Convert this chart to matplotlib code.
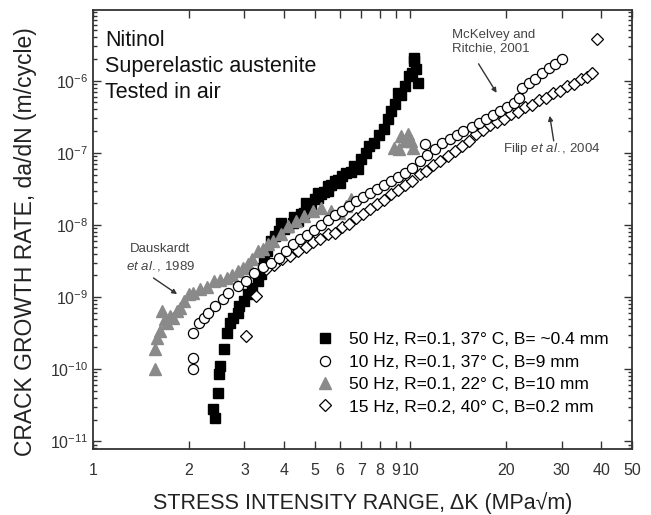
import matplotlib
matplotlib.use('Agg')
import matplotlib.pyplot as plt
from matplotlib.ticker import FixedLocator, LogLocator, NullFormatter, FixedFormatter

plt.rcParams['font.family'] = ['Liberation Sans', 'DejaVu Sans']
plt.rcParams['mathtext.fontset'] = 'custom'
plt.rcParams['mathtext.rm'] = 'Liberation Sans'
plt.rcParams['mathtext.it'] = 'Liberation Sans:italic'
plt.rcParams['mathtext.bf'] = 'Liberation Sans:bold'

# 50 Hz, R=0.1, 37 C, B=~0.4 mm (black squares)
sq_dk = [2.38, 2.43, 2.47, 2.49, 2.52, 2.58, 2.65, 2.71, 2.77, 2.86, 2.88, 2.98, 3.07, 3.18, 3.30,
         3.38, 3.43, 3.45, 3.53, 3.63, 3.74, 3.85, 3.99, 4.11, 4.26, 4.42, 4.52, 4.62, 4.76, 4.86,
         5.01, 5.12, 5.23, 5.34, 5.50, 5.62, 5.79, 5.92, 6.09, 6.27, 6.50, 6.65, 6.84, 7.00, 7.26,
         7.42, 7.69, 7.98, 8.27, 8.52, 8.71, 8.97, 9.16, 9.37, 9.64, 9.93, 10.1, 10.3, 10.4, 10.6,
         10.3, 3.9, 4.3, 4.7, 5.1, 5.5, 6.0]
sq_rate = [2.78e-11, 2.08e-11, 4.64e-11, 8.5e-11, 1.10e-10, 1.9e-10, 3.16e-10, 4.36e-10, 5.1e-10,
           6.0e-10, 7.5e-10, 8.8e-10, 1.10e-9, 1.33e-9, 1.67e-9, 2.08e-9, 2.53e-9, 3.48e-9, 4.36e-9,
           6.0e-9, 7.0e-9, 8.3e-9, 8.8e-9, 9.4e-9, 1.07e-8, 1.14e-8, 1.42e-8, 1.47e-8, 1.72e-8,
           1.96e-8, 2.3e-8, 2.37e-8, 2.7e-8, 2.87e-8, 3.48e-8, 3.6e-8, 4.1e-8, 4.2e-8, 4.8e-8,
           5.3e-8, 5.45e-8, 6.6e-8, 6.0e-8, 8.3e-8, 1.0e-7, 1.25e-7, 1.38e-7, 1.78e-7, 2.15e-7,
           2.97e-7, 3.83e-7, 4.8e-7, 6.8e-7, 6.4e-7, 8.5e-7, 1.17e-6, 1.29e-6, 1.9e-6, 1.47e-6,
           9.4e-7, 2.08e-6, 1.05e-8, 1.3e-8, 2.0e-8, 2.8e-8, 3.0e-8, 3.8e-8]

# 10 Hz, R=0.1, 37 C, B=9 mm (open circles, McKelvey and Ritchie)
ci_dk = [2.06, 2.06, 2.06, 2.15, 2.23, 2.31, 2.43, 2.56, 2.67, 2.86, 3.03, 3.21, 3.43, 3.63, 3.85,
         4.05, 4.26, 4.49, 4.72, 4.97, 5.23, 5.50, 5.79, 6.09, 6.41, 6.75, 7.10, 7.47, 7.86, 8.27,
         8.71, 9.16, 9.64, 10.1, 11.1, 10.7, 11.3, 12.0, 12.6, 13.3, 14.0, 14.7, 15.6, 16.4, 17.3,
         18.2, 19.1, 20.1, 21.2, 22.0, 22.5, 23.6, 24.7, 26.0, 27.3, 28.6, 30.1]
ci_rate = [1.0e-10, 1.42e-10, 3.16e-10, 4.36e-10, 5.1e-10, 6.0e-10, 7.5e-10, 9.4e-10, 1.14e-9,
           1.42e-9, 1.67e-9, 2.15e-9, 2.61e-9, 2.97e-9, 3.48e-9, 4.36e-9, 5.45e-9, 6.4e-9, 7.3e-9,
           8.5e-9, 1.0e-8, 1.17e-8, 1.38e-8, 1.56e-8, 1.84e-8, 2.15e-8, 2.45e-8, 2.78e-8, 3.16e-8,
           3.6e-8, 4.1e-8, 4.6e-8, 5.3e-8, 6.2e-8, 1.33e-7, 7.7e-8, 9.4e-8, 1.14e-7, 1.38e-7,
           1.56e-7, 1.78e-7, 2.02e-7, 2.3e-7, 2.61e-7, 2.97e-7, 3.37e-7, 3.83e-7, 4.36e-7, 4.95e-7,
           5.8e-7, 8.0e-7, 9.4e-7, 1.07e-6, 1.29e-6, 1.52e-6, 1.72e-6, 2.02e-6]

# 50 Hz, R=0.1, 22 C, B=10 mm (grey triangles, Dauskardt et al.)
tr_dk = [1.57, 1.57, 1.59, 1.63, 1.65, 1.68, 1.71, 1.75, 1.79, 1.84, 1.88, 1.94, 2.00, 2.07, 2.18,
         2.28, 2.40, 2.52, 2.65, 2.75, 2.86, 2.96, 3.07, 3.18, 3.30, 3.43, 3.55, 3.69, 3.91, 4.11,
         4.36, 4.62, 4.93, 5.23, 5.62, 5.96, 6.27, 6.50,
         8.90, 9.23, 9.37, 9.64, 9.86, 10.07, 10.2]
tr_rate = [1.0e-10, 1.9e-10, 2.7e-10, 3.37e-10, 6.4e-10, 4.95e-10, 4.36e-10, 5.45e-10, 5.1e-10,
           6.4e-10, 7.0e-10, 8.8e-10, 1.10e-9, 1.14e-9, 1.29e-9, 1.38e-9, 1.67e-9, 1.72e-9, 1.84e-9,
           2.02e-9, 2.3e-9, 2.53e-9, 2.87e-9, 3.37e-9, 4.36e-9, 4.64e-9, 5.45e-9, 6.0e-9, 7.5e-9,
           9.7e-9, 1.14e-8, 1.33e-8, 1.56e-8, 1.72e-8, 1.56e-8, 1.47e-8, 1.84e-8, 2.3e-8,
           1.17e-7, 1.14e-7, 1.72e-7, 1.47e-7, 1.84e-7, 1.47e-7, 1.17e-7]

# 15 Hz, R=0.2, 40 C, B=0.2 mm (open diamonds, Filip et al.)
di_dk = [3.03, 3.26, 3.50, 3.71, 3.94, 4.17, 4.42, 4.69, 4.93, 5.19, 5.50, 5.79, 6.09, 6.41, 6.75,
         7.10, 7.47, 7.86, 8.27, 8.71, 9.16, 9.64, 10.1, 10.7, 11.2, 11.8, 12.4, 13.1, 13.8, 14.5,
         15.3, 16.1, 16.9, 17.8, 18.7, 19.7, 20.7, 21.8, 22.9, 24.1, 25.4, 26.7, 28.1, 29.6, 31.2,
         32.8, 34.5, 36.1, 37.4, 38.8]
di_rate = [2.87e-10, 1.03e-9, 2.45e-9, 2.78e-9, 3.37e-9, 3.71e-9, 4.36e-9, 4.95e-9, 5.8e-9, 6.4e-9,
           7.5e-9, 7.7e-9, 9.4e-9, 1.03e-8, 1.25e-8, 1.42e-8, 1.67e-8, 1.96e-8, 2.22e-8, 2.7e-8,
           3.06e-8, 3.6e-8, 4.1e-8, 5.1e-8, 5.6e-8, 6.8e-8, 7.7e-8, 9.1e-8, 1.07e-7, 1.25e-7,
           1.47e-7, 1.84e-7, 2.08e-7, 2.45e-7, 2.7e-7, 2.97e-7, 3.48e-7, 3.71e-7, 4.36e-7, 4.6e-7,
           5.45e-7, 5.8e-7, 6.8e-7, 7.3e-7, 8.5e-7, 9.1e-7, 1.07e-6, 1.14e-6, 1.29e-6, 3.83e-6]

labels = ['50 Hz, R=0.1, 37° C, B= ~0.4 mm',
          '10 Hz, R=0.1, 37° C, B=9 mm',
          '50 Hz, R=0.1, 22° C, B=10 mm',
          '15 Hz, R=0.2, 40° C, B=0.2 mm']

xticks = [1, 2, 3, 4, 5, 6, 7, 8, 9, 10, 20, 30, 40, 50]
yticks = [1e-11, 1e-10, 1e-9, 1e-8, 1e-7, 1e-6]

fig = plt.figure(figsize=(6.51, 5.15), dpi=100)
ax = fig.add_axes([0.143, 0.128, 0.828, 0.852])

grey = '#8a8a8a'
h_sq, = ax.plot(sq_dk, sq_rate, 's', color='black', ms=7, ls='none', zorder=3)
h_tr, = ax.plot(tr_dk, tr_rate, '^', color=grey, ms=8.5, ls='none', zorder=4)
h_di, = ax.plot(di_dk, di_rate, 'D', mfc='white', mec='black', mew=0.9, ms=6.3, ls='none', zorder=5)
h_ci, = ax.plot(ci_dk, ci_rate, 'o', mfc='white', mec='black', mew=0.9, ms=7.3, ls='none', zorder=6)

ax.set_xscale('log')
ax.set_yscale('log')
ax.set_xlim(1, 50)
ax.set_ylim(7.8e-12, 9.5e-6)

ax.xaxis.set_major_locator(FixedLocator(xticks))
ax.xaxis.set_major_formatter(FixedFormatter([str(v) for v in xticks]))
ax.xaxis.set_minor_locator(FixedLocator([]))
ax.yaxis.set_major_locator(FixedLocator(yticks))
ax.yaxis.set_minor_locator(LogLocator(base=10, subs=range(2, 10), numticks=20))
ax.yaxis.set_minor_formatter(NullFormatter())

ax.tick_params(which='both', direction='in', top=True, right=True, colors='#333333',
               labelsize=11.5, width=1)
ax.tick_params(which='major', length=6)
ax.tick_params(which='minor', length=3)
ax.tick_params(axis='x', pad=10)
for s in ax.spines.values():
    s.set_linewidth(1.3)
    s.set_color('#333333')

ax.set_xlabel('STRESS INTENSITY RANGE, ΔK (MPa√m)', fontsize=15.5, color='#222222')
ax.xaxis.set_label_coords(0.5, -0.098)
ax.set_ylabel('CRACK GROWTH RATE, da/dN (m/cycle)', fontsize=16.5, color='#222222')
ax.yaxis.set_label_coords(-0.104, 0.473)

ax.text(0.022, 0.955, 'Nitinol\nSuperelastic austenite\nTested in air', transform=ax.transAxes,
        fontsize=15.5, va='top', ha='left', linespacing=1.3, color='#111111')

arrow = dict(arrowstyle='-|>', color='#333333', lw=1, mutation_scale=7, shrinkA=0, shrinkB=0)
tcol = '#444444'
ax.text(13.5, 2.3e-6, 'McKelvey and\nRitchie, 2001', fontsize=9.5, color=tcol,
        ha='left', va='bottom', linespacing=1.2)
ax.annotate('', xy=(18.7, 6.8e-7), xytext=(16.4, 1.72e-6), arrowprops=arrow)
ax.text(27.8, 1.14e-7, 'Filip $\\it{et\\ al.}$, 2004', fontsize=9.5, color=tcol,
        ha='center', va='center')
ax.annotate('', xy=(27.5, 3.27e-7), xytext=(28.3, 1.47e-7), arrowprops=arrow)
ax.text(1.63, 3.48e-9, 'Dauskardt\n$\\it{et\\ al.}$, 1989', fontsize=9.5, color=tcol,
        ha='center', va='center', linespacing=1.3)
ax.annotate('', xy=(1.84, 1.1e-9), xytext=(1.55, 1.84e-9), arrowprops=arrow)

ax.legend([h_sq, h_ci, h_tr, h_di], labels, loc='lower left', bbox_to_anchor=(0.395, 0.059),
          frameon=False, fontsize=12.5, handletextpad=0.8, labelspacing=0.42, borderpad=0,
          handlelength=1.2)

fig.savefig('out.png', dpi=100)
